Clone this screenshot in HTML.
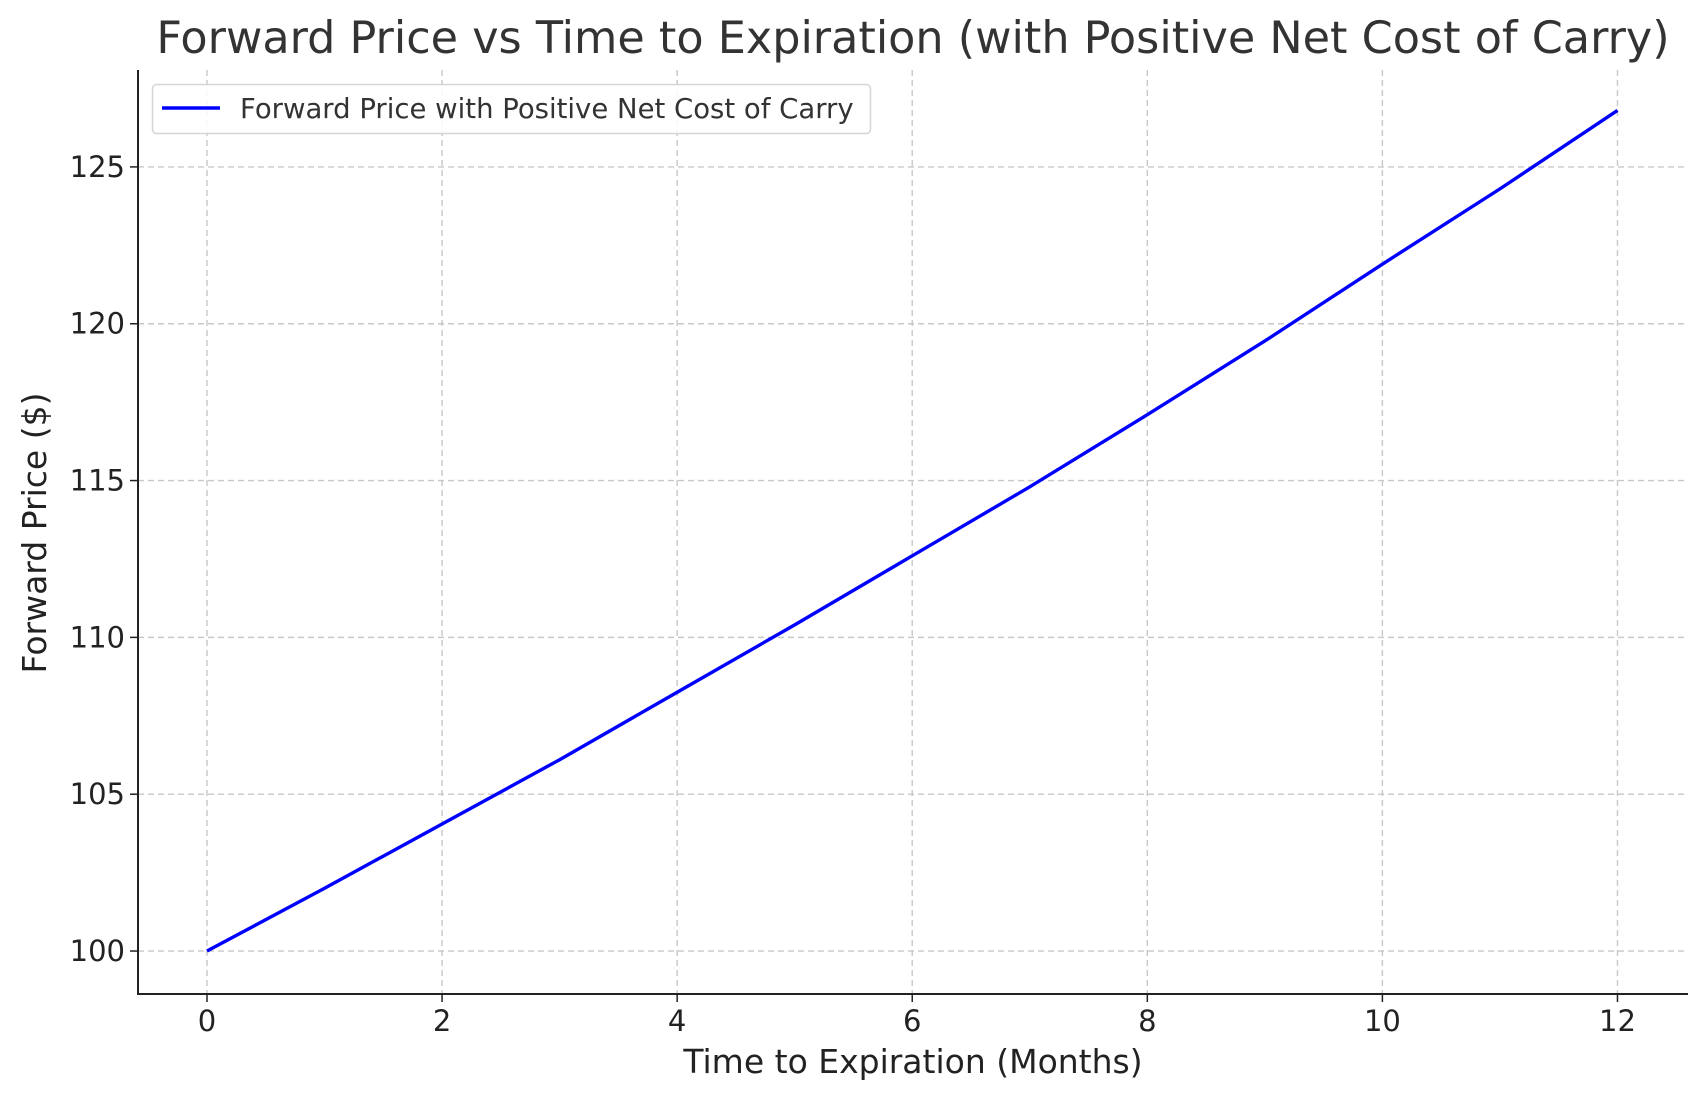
<!DOCTYPE html>
<html><head><meta charset="utf-8"><style>
html,body{margin:0;padding:0;background:#fff;}
svg{display:block;font-family:"DejaVu Sans","Liberation Sans",sans-serif;}
</style></head><body>
<svg id="chart" width="1707" height="1101" viewBox="0 0 1707 1101"></svg>
<script>
const months = [0,1,2,3,4,5,6,7,8,9,10,11,12];
const forwardPrice = [100,102,104.05,106.1,108.25,110.4,112.6,114.8,117.1,119.45,121.9,124.3,126.8];
const xTicks = [0,2,4,6,8,10,12];
const yTicks = [100,105,110,115,120,125];

const L=138,R=1688,T=70,B=994;
const xMin=-0.587,xMax=12.6,yMin=98.63,yMax=128.09;
const xs=v=>L+(v-xMin)/(xMax-xMin)*(R-L);
const ys=v=>B-(v-yMin)/(yMax-yMin)*(B-T);
const NS='http://www.w3.org/2000/svg';
const svg=document.getElementById('chart');
function mk(tag,attrs,parent){const e=document.createElementNS(NS,tag);for(const k in attrs)e.setAttribute(k,attrs[k]);(parent||svg).appendChild(e);return e;}

xTicks.forEach(t=>{
  const g=mk('line',{x1:xs(t),x2:xs(t),y1:T,y2:B,stroke:'#c8c8c8','stroke-width':1.4,'stroke-dasharray':'6,4'});
  
  
});
yTicks.forEach(t=>{
  const g=mk('line',{x1:L,x2:R,y1:ys(t),y2:ys(t),stroke:'#c8c8c8','stroke-width':1.4,'stroke-dasharray':'6,4'});
  
  
});

const pl=mk('polyline',{points:months.map((m,i)=>xs(m)+','+ys(forwardPrice[i])).join(' '),fill:'none',stroke:'#0000ff','stroke-width':3.4});



const ax=mk('line',{x1:L,x2:L,y1:T,y2:B+1,stroke:'#222','stroke-width':2});


const bx=mk('line',{x1:L-1,x2:R,y1:B,y2:B,stroke:'#222','stroke-width':2});



xTicks.forEach(t=>{
  const tk=mk('line',{x1:xs(t),x2:xs(t),y1:B,y2:B+8,stroke:'#222','stroke-width':1.5});
  
  
  const tx=mk('text',{x:xs(t),y:B+37,'text-anchor':'middle','font-size':29,fill:'#222'});
  tx.textContent=t;
  
  
});
yTicks.forEach(t=>{
  const tk=mk('line',{x1:L-8,x2:L,y1:ys(t),y2:ys(t),stroke:'#222','stroke-width':1.5});
  
  
  const tx=mk('text',{x:L-13,y:ys(t)+10,'text-anchor':'end','font-size':29,fill:'#222'});
  tx.textContent=t;
  
  
});
</script>
<svg width="1707" height="1101" style="position:absolute;left:0;top:0;font-family:'DejaVu Sans','Liberation Sans',sans-serif;">
  <text x="913" y="53" text-anchor="middle" font-size="44.5" fill="#333">Forward Price vs Time to Expiration (with Positive Net Cost of Carry)</text>
  <text x="913" y="1073" text-anchor="middle" font-size="33" fill="#222">Time to Expiration (Months)</text>
  <text x="0" y="0" transform="translate(46,533) rotate(-90)" text-anchor="middle" font-size="33" fill="#222">Forward Price ($)</text>
  <g>
    <rect x="152.5" y="84.5" width="718" height="49" rx="4" fill="#fff" fill-opacity="0.85" stroke="#d5d5d5" stroke-width="1.5"/>
    <line x1="162" x2="220" y1="108" y2="108" stroke="#0000ff" stroke-width="3.4"/>
    <text x="240" y="118" font-size="27.5" fill="#333">Forward Price with Positive Net Cost of Carry</text>
  </g>
</svg>
</body></html>
